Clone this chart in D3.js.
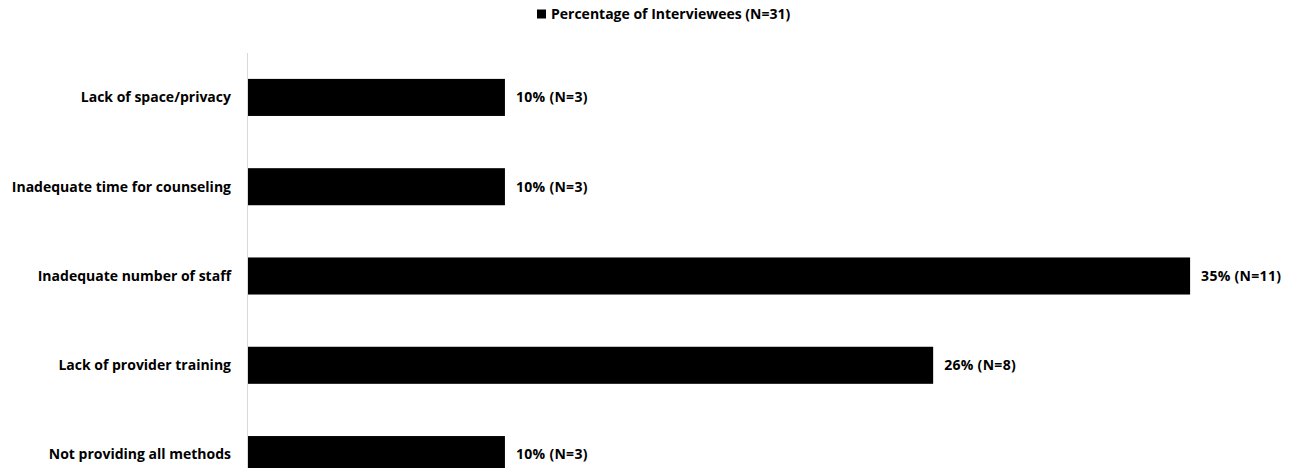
<!DOCTYPE html>
<html>
<head>
    <meta charset="utf-8">
    <script type="text/javascript" src="https://d3js.org/d3.v7.min.js"></script>
    <style>
        body {
            background: #ffffff;
            margin: 0;
            padding: 0;
        }
        .cat_label, .bar_label, .legend_text {
            font-family: "Open Sans", sans-serif;
            font-weight: 700;
            font-size: 14px;
            fill: #000000;
        }
        .bar_label {
            letter-spacing: 0.3px;
        }
        .bar {
            fill: #000000;
        }
        .axis_line {
            stroke: #d9d9d9;
            stroke-width: 1;
        }
    </style>
</head>
<body>
    <div id="chart"></div>
    <script>
        // data
        var categories = ["Lack of space/privacy", "Inadequate time for counseling",
                          "Inadequate number of staff", "Lack of provider training",
                          "Not providing all methods"];
        var counts = [3, 3, 11, 8, 3];
        var totalN = 31;
        var seriesName = "Percentage of Interviewees (N=31)";

        var width = 1297, height = 468;

        var svg = d3.select("#chart")
            .append("svg")
            .attr("width", width)
            .attr("height", height);

        var rows = categories.map(function(c, i) {
            return { cat: c, n: counts[i], pct: counts[i] / totalN * 100 };
        });

        var x = d3.scaleLinear()
            .domain([0, 40])
            .range([248, 248 + 26.55 * 40]);

        var y = d3.scaleBand()
            .domain(categories)
            .range([53, 499])
            .paddingInner(0.585)
            .paddingOuter(0.29);

        // vertical axis line
        svg.append("line")
            .attr("class", "axis_line")
            .attr("x1", 247.5).attr("x2", 247.5)
            .attr("y1", 53).attr("y2", 499);

        svg.selectAll(".bar")
            .data(rows)
            .enter().append("rect")
            .attr("class", "bar")
            .attr("x", x(0))
            .attr("y", function(d) { return y(d.cat); })
            .attr("width", function(d) { return x(d.pct) - x(0); })
            .attr("height", y.bandwidth());

        svg.selectAll(".bar_label")
            .data(rows)
            .enter().append("text")
            .attr("class", "bar_label")
            .attr("x", function(d) { return x(d.pct) + 11; })
            .attr("y", function(d) { return y(d.cat) + y.bandwidth() / 2; })
            .attr("dy", "0.35em")
            .text(function(d) { return Math.round(d.pct) + "% (N=" + d.n + ")"; });

        svg.selectAll(".cat_label")
            .data(rows)
            .enter().append("text")
            .attr("class", "cat_label")
            .attr("x", 231)
            .attr("y", function(d) { return y(d.cat) + y.bandwidth() / 2; })
            .attr("dy", "0.35em")
            .attr("text-anchor", "end")
            .text(function(d) { return d.cat; });

        // legend
        var legend = svg.append("g").attr("transform", "translate(537,14)");
        legend.append("rect")
            .attr("x", 0).attr("y", -4.5)
            .attr("width", 9).attr("height", 9)
            .attr("fill", "#000");
        legend.append("text")
            .attr("class", "legend_text")
            .attr("x", 14)
            .attr("y", 0)
            .attr("dy", "0.35em")
            .text(seriesName);
    </script>
</body>
</html>
